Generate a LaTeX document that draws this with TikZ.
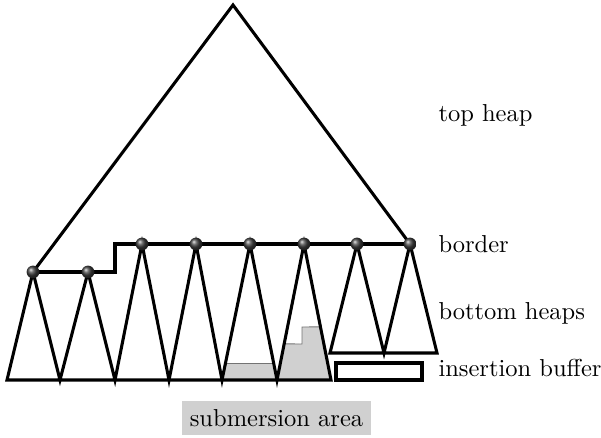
\documentclass[tikz,border=0pt]{standalone}
\usetikzlibrary{calc}
\definecolor{subgray}{HTML}{D0D0D0}
\tikzset{
  heavy/.style={line width=1.25pt, line join=miter, black},
  ballnode/.style={circle, inner sep=0pt, minimum size=5.2pt, shading=ball, ball color=black!75},
  lbl/.style={anchor=base west, inner sep=0pt},
  graypart/.style={fill=subgray, draw=black!55, line width=0.4pt}
}
\begin{document}
\begin{tikzpicture}[x=0.408pt, y=-0.408pt]
\useasboundingbox (0,0) rectangle (601,437);
% coordinates
\coordinate (apex) at (233,5);
\coordinate (b1) at (33,272);
\coordinate (b2) at (88,272);
\coordinate (b3) at (142,244);
\coordinate (b4) at (196,244);
\coordinate (b5) at (250,244);
\coordinate (b6) at (304,244);
\coordinate (b7) at (357,244);
\coordinate (b8) at (410,244);
\coordinate (f0) at (7,380);
\coordinate (f1) at (60,380);
\coordinate (f2) at (115,380);
\coordinate (f3) at (169,380);
\coordinate (f4) at (222,380);
\coordinate (f5) at (277,380);
\coordinate (f6) at (331,380);
\coordinate (g0) at (330,353);
\coordinate (g1) at (384,353);
\coordinate (g2) at (437,353);
% gray submersion parts
\fill[subgray] (f4) -- ($(f4)!0.125!(b5)$) -- ($(f5)!0.125!(b5)$) -- (f5) -- cycle;
\draw[black!55, line width=0.4pt] ($(f4)!0.125!(b5)$) -- ($(f5)!0.125!(b5)$);
\fill[subgray] (f5) -- ($(f5)!0.265!(b6)$) -- (302,344) -- (302,327) -- ($(f6)!0.39!(b6)$) -- (f6) -- cycle;
\draw[black!55, line width=0.4pt] ($(f5)!0.265!(b6)$) -- (302,344) -- (302,327) -- ($(f6)!0.39!(b6)$);
% top heap
\draw[heavy] (b1) -- (apex) -- (b8);
% border
\draw[heavy] (b1) -- (b2) -- (115,272) -- (115,244) -- (b8);
% bottom heaps
\draw[heavy] (f0) -- (b1) -- (f1) -- (b2) -- (f2) -- (b3) -- (f3) -- (b4) -- (f4) -- (b5) -- (f5) -- (b6) -- (f6) -- cycle;
\draw[heavy] (g0) -- (b7) -- (g1) -- (b8) -- (g2) -- cycle;
% insertion buffer
\draw[heavy] (336,363) rectangle (422,380);
% balls
\foreach \i in {1,...,8} \node[ballnode] (n\i) at (b\i) {};
% labels
\node[lbl] (ltop) at (438,122) {top heap};
\node[lbl] (lborder) at (438,252) {border};
\node[lbl] (lbottom) at (438,319) {bottom heaps};
\node[lbl] (lins) at (438,376) {insertion buffer};
\node[fill=subgray, inner sep=3.33pt] (lsub) at (276.5,418) {submersion area};
\end{tikzpicture}
\end{document}
